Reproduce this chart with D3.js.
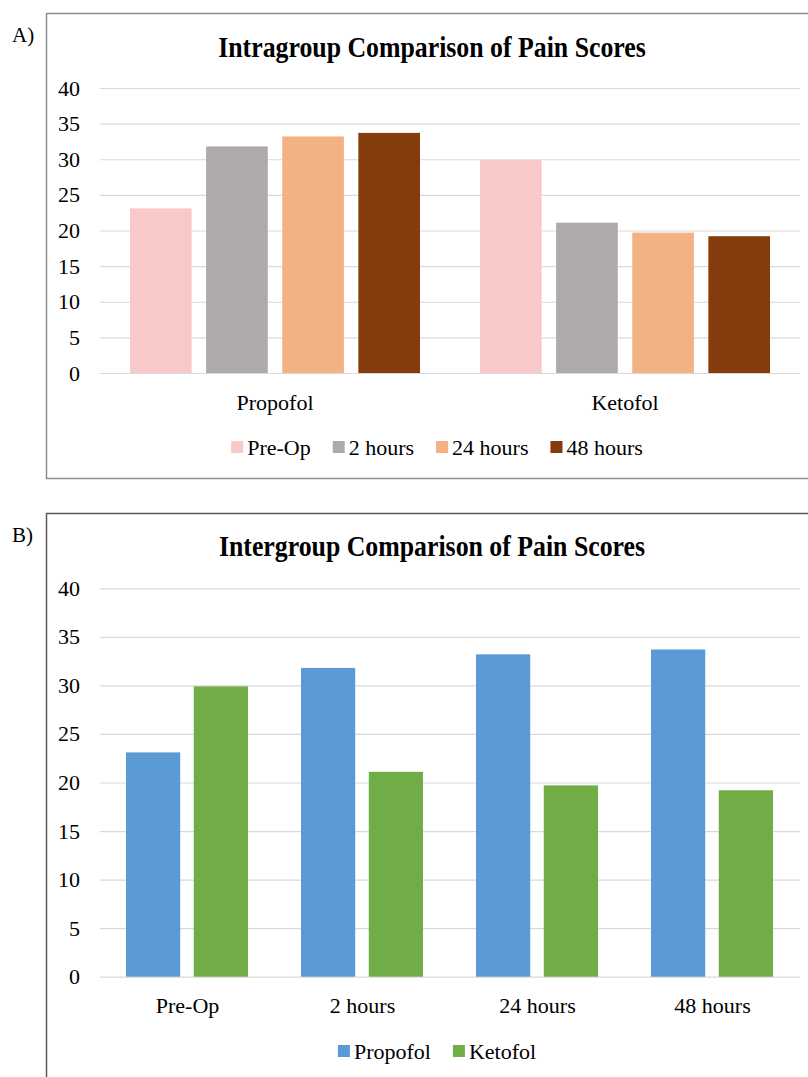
<!DOCTYPE html>
<html>
<head>
<meta charset="utf-8">
<script src="https://cdn.jsdelivr.net/npm/d3@7"></script>
<style>
  html, body { margin: 0; padding: 0; background: #ffffff; }
  svg { display: block; }
  text { font-family: "Liberation Serif", "Times New Roman", serif; fill: #000; }
</style>
</head>
<body>
<svg id="chart" width="808" height="1077"></svg>
<script>
// ---------- data ----------
const groups = ["Propofol", "Ketofol"];
const times = ["Pre-Op", "2 hours", "24 hours", "48 hours"];
const propofolScores = [23.1, 31.8, 33.2, 33.7];
const ketofolScores = [29.9, 21.1, 19.7, 19.2];
const yTicks = [0, 5, 10, 15, 20, 25, 30, 35, 40];
const timeColors = ["#F9C8C8", "#AEAAAA", "#F4B183", "#843C0C"];
const groupColors = ["#5B9BD5", "#70AD47"];
const titleA = "Intragroup Comparison of Pain Scores";
const titleB = "Intergroup Comparison of Pain Scores";

const byGroup = { "Propofol": propofolScores, "Ketofol": ketofolScores };

const svg = d3.select("#chart");

// ---------- helpers ----------
function gridAxis(g, y, left, width, pad) {
  const ax = d3.axisLeft(y).tickValues(yTicks).tickSize(-width).tickPadding(pad);
  g.attr("transform", `translate(${left},0)`).call(ax);
  g.select(".domain").remove();
  g.selectAll(".tick line").attr("stroke", "#D9D9D9").attr("stroke-width", 1.2);
  g.selectAll(".tick text").attr("font-size", 22).attr("font-family", "Liberation Serif").attr("fill", "#000");
}

function legend(g, items, colors, cx, cy) {
  const sq = 12, gapT = 4, gapI = 22;
  const it = g.selectAll("g.item").data(items).join("g").attr("class", "item");
  it.append("rect").attr("width", sq).attr("height", sq).attr("y", -sq / 2)
    .attr("fill", (d, i) => colors[i]);
  it.append("text").attr("x", sq + gapT).attr("dy", "0.35em")
    .attr("font-size", 22).text(d => d);
  let widths = [];
  it.each(function () { widths.push(this.getBBox().width); });
  const total = d3.sum(widths) + gapI * (items.length - 1);
  let x = cx - total / 2;
  it.attr("transform", (d, i) => { const t = `translate(${x},${cy})`; x += widths[i] + gapI; return t; });
}

function title(txt, cx, by) {
  svg.append("text").attr("transform", `translate(${cx},${by}) scale(0.89,1)`)
    .attr("text-anchor", "middle").attr("font-size", 29).attr("font-weight", "bold").text(txt);
}

// ---------- Panel A ----------
svg.append("rect").attr("x", 46.5).attr("y", 13.5).attr("width", 800).attr("height", 465)
  .attr("fill", "none").attr("stroke", "#8C8C8C").attr("stroke-width", 1.5);
svg.append("text").attr("x", 12).attr("y", 42).attr("font-size", 21).text("A)");
title(titleA, 432, 56.5);

const yA = d3.scaleLinear().domain([0, 40]).range([373, 88]);
const xA0 = d3.scaleBand().domain(groups).range([100, 800]);
const xA1 = d3.scaleBand().domain(times).range([30, 320]).paddingInner(0.19);

gridAxis(svg.append("g"), yA, 100, 700, 20);

const gA = svg.append("g");
groups.forEach(grp => {
  gA.selectAll(null).data(times).join("rect")
    .attr("x", t => xA0(grp) + xA1(t))
    .attr("width", xA1.bandwidth())
    .attr("y", (t, i) => yA(byGroup[grp][i]))
    .attr("height", (t, i) => yA(0) - yA(byGroup[grp][i]))
    .attr("fill", (t, i) => timeColors[i]);
});

const axA = svg.append("g").attr("transform", `translate(0,${yA(0)})`)
  .call(d3.axisBottom(xA0).tickSize(0).tickPadding(21));
axA.select(".domain").remove();
axA.selectAll(".tick text").attr("font-size", 22).attr("font-family", "Liberation Serif").attr("fill", "#000");

legend(svg.append("g"), times, timeColors, 437, 447);

// ---------- Panel B ----------
svg.append("rect").attr("x", 46.5).attr("y", 513.5).attr("width", 800).attr("height", 600)
  .attr("fill", "none").attr("stroke", "#5A5A5A").attr("stroke-width", 1.5);
svg.append("text").attr("x", 12).attr("y", 542).attr("font-size", 21).text("B)");
title(titleB, 432, 556);

const yB = d3.scaleLinear().domain([0, 40]).range([976.7, 588.3]);
const xB0 = d3.scaleBand().domain(times).range([100, 800]);
const xB1 = d3.scaleBand().domain(groups).range([26, 148]).paddingInner(0.2);

gridAxis(svg.append("g"), yB, 100, 700, 20);

const gB = svg.append("g");
groups.forEach((grp, gi) => {
  gB.selectAll(null).data(times).join("rect")
    .attr("x", t => xB0(t) + xB1(grp))
    .attr("width", xB1.bandwidth())
    .attr("y", (t, i) => yB(byGroup[grp][i]))
    .attr("height", (t, i) => yB(0) - yB(byGroup[grp][i]))
    .attr("fill", groupColors[gi]);
});

const axB = svg.append("g").attr("transform", `translate(0,${yB(0)})`)
  .call(d3.axisBottom(xB0).tickSize(0).tickPadding(21));
axB.select(".domain").remove();
axB.selectAll(".tick text").attr("font-size", 22).attr("font-family", "Liberation Serif").attr("fill", "#000");

legend(svg.append("g"), groups, groupColors, 437, 1051);
</script>
</body>
</html>
